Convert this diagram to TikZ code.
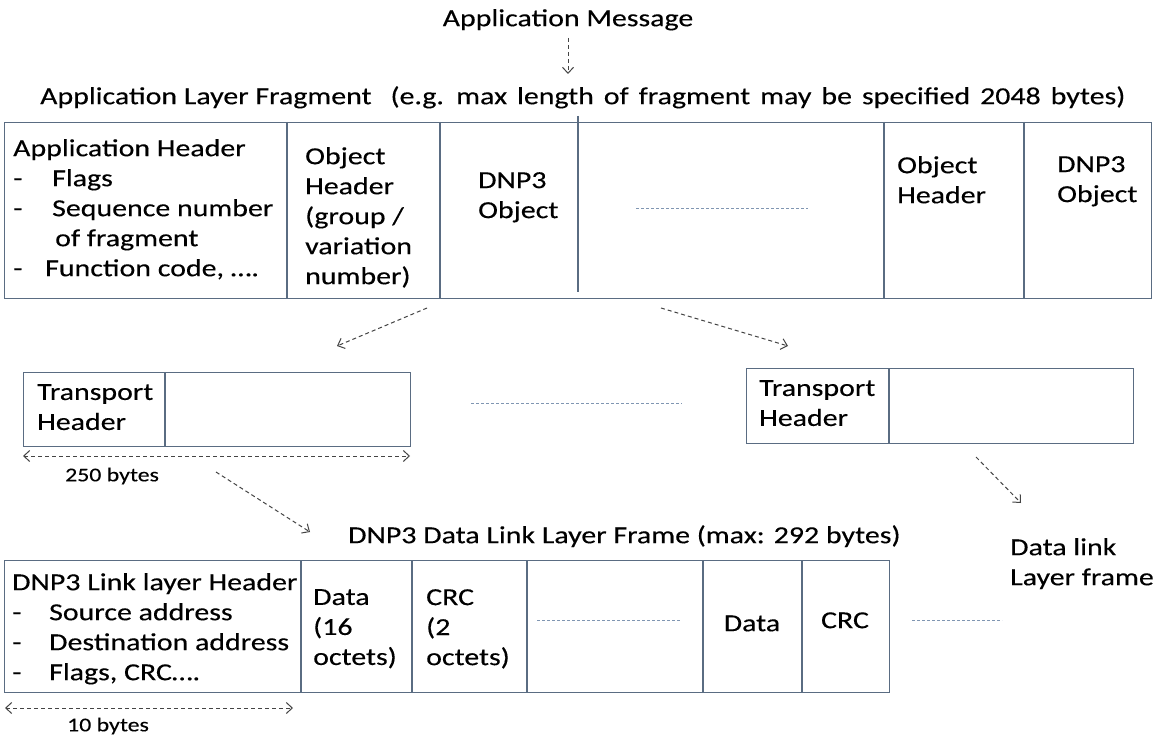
\documentclass[tikz,border=0pt]{standalone}
\usepackage{fontspec}
\setmainfont{Carlito}[FakeStretch=1.22, FakeBold=0.25]
\usetikzlibrary{arrows.meta}
\definecolor{framec}{RGB}{90,108,130}
\definecolor{gapc}{RGB}{128,150,178}
\definecolor{flowc}{RGB}{68,68,68}
\begin{document}
\begin{tikzpicture}[x=1pt,y=-1pt,
  txt/.style={anchor=north west, inner sep=0pt, align=left, text=black,
    font=\fontsize{24.5}{30}\selectfont, execute at begin node=\strut},
  ctxt/.style={txt, anchor=north, align=center},
  smalltxt/.style={txt, font=\fontsize{19.5}{23}\selectfont},
  cell/.style={draw=framec, line width=1.3pt, inner sep=0pt, anchor=north west},
  sepline/.style={draw=framec, line width=1.1pt},
  gapline/.style={draw=gapc, line width=0.8pt, dash pattern=on 3pt off 2pt},
  flow/.style={draw=flowc, line width=1pt, dash pattern=on 4pt off 3pt,
    -{Straight Barb[length=6pt,width=11pt]}},
  span/.style={draw=flowc, line width=1pt, dash pattern=on 4pt off 3pt,
    {Straight Barb[length=6pt,width=11pt]}-{Straight Barb[length=6pt,width=11pt]}}
]
\useasboundingbox[fill=white] (0,0) rectangle (1161,743);

% ---------- application layer ----------
\node[ctxt] (msg) at (568,5) {Application Message};
\coordinate (msgout) at (568,38);
\coordinate (fragin) at (568,74);
\draw[flow] (msgout) -- (fragin);

\node[txt] (fragtitle) at (40,83)
  {Application Layer Fragment\hspace{0.5em} {\spaceskip=10pt (e.g. max length of fragment may be specified 2048 bytes)}};

\node[cell, minimum width=1147pt, minimum height=176pt] (frag) at (4,122) {};
\draw[sepline] (287,122) -- (287,298);
\draw[sepline] (440,122) -- (440,298);
\draw[sepline] (578,116) -- (578,292);
\draw[sepline] (884,122) -- (884,298);
\draw[sepline] (1024,122) -- (1024,298);

\node[txt] (apphdr) at (13,139)
  {Application Header\\
   \makebox[39pt][l]{-}Flags\\
   \makebox[39pt][l]{-}Sequence number\\
   \hspace*{42pt}of fragment\\
   \makebox[32pt][l]{-}Function code, ….};
\node[txt] (objhdr) at (305,147) {Object\\Header\\(group /\\variation\\number)};
\node[txt] (obj1) at (478,172) {DNP3\\Object};
\node[txt] (objhdr2) at (897,156) {Object\\Header};
\node[txt] (obj2) at (1057,156) {DNP3\\Object};
\coordinate (g1a) at (636,208);
\coordinate (g1b) at (808,208);
\draw[gapline] (g1a) -- (g1b);

% ---------- transport layer ----------
\coordinate (f1s) at (427,308);
\coordinate (f1e) at (337,346);
\coordinate (f2s) at (661,308);
\coordinate (f2e) at (788,346);
\draw[flow] (f1s) -- (f1e);
\draw[flow] (f2s) -- (f2e);

\node[cell, minimum width=387pt, minimum height=74pt] (tp1) at (23,372) {};
\draw[sepline] (165,372) -- (165,446);
\node[txt] (tph1) at (37,384) {Transport\\Header};

\node[cell, minimum width=387pt, minimum height=75pt] (tp2) at (746,368) {};
\draw[sepline] (889,368) -- (889,443);
\node[txt] (tph2) at (759,380) {Transport\\Header};

\coordinate (g2a) at (471,403);
\coordinate (g2b) at (682,403);
\draw[gapline] (g2a) -- (g2b);

\coordinate (d1a) at (23,456);
\coordinate (d1b) at (410,456);
\draw[span] (d1a) -- (d1b);
\node[smalltxt] (len1) at (65,465) {250 bytes};

\coordinate (t1s) at (216,472);
\coordinate (t1e) at (310,532);
\coordinate (t2s) at (976,457);
\coordinate (t2e) at (1021,503);
\draw[flow] (t1s) -- (t1e);
\draw[flow] (t2s) -- (t2e);

% ---------- data link layer ----------
\node[txt] (dltitle) at (348,522) {DNP3 Data Link Layer Frame (max: 292 bytes)};
\node[txt] (dlnext) at (1010,538) {Data link\\Layer frame};

\node[cell, minimum width=885pt, minimum height=132pt] (dl) at (4,560) {};
\draw[sepline] (301,560) -- (301,692);
\draw[sepline] (412,560) -- (412,692);
\draw[sepline] (527,560) -- (527,692);
\draw[sepline] (703,560) -- (703,692);
\draw[sepline] (802,560) -- (802,692);

\node[txt] (dlhdr) at (12,573)
  {DNP3 Link layer Header\\
   \makebox[37pt][l]{-}Source address\\
   \makebox[37pt][l]{-}Destination address\\
   \makebox[37pt][l]{-}Flags, CRC….};
\node[txt] (data1) at (313,589) {Data\\(16\\octets)};
\node[txt] (crc1) at (426,589) {CRC\\(2\\octets)};
\node[ctxt] (data2) at (752,610) {Data};
\node[ctxt] (crc2) at (845,607) {CRC};

\coordinate (g3a) at (537,620);
\coordinate (g3b) at (680,620);
\draw[gapline] (g3a) -- (g3b);
\coordinate (g4a) at (912,620);
\coordinate (g4b) at (1002,620);
\draw[gapline] (g4a) -- (g4b);

\coordinate (d2a) at (5,708);
\coordinate (d2b) at (293,708);
\draw[span] (d2a) -- (d2b);
\node[smalltxt] (len2) at (67,715) {10 bytes};
\end{tikzpicture}
\end{document}
